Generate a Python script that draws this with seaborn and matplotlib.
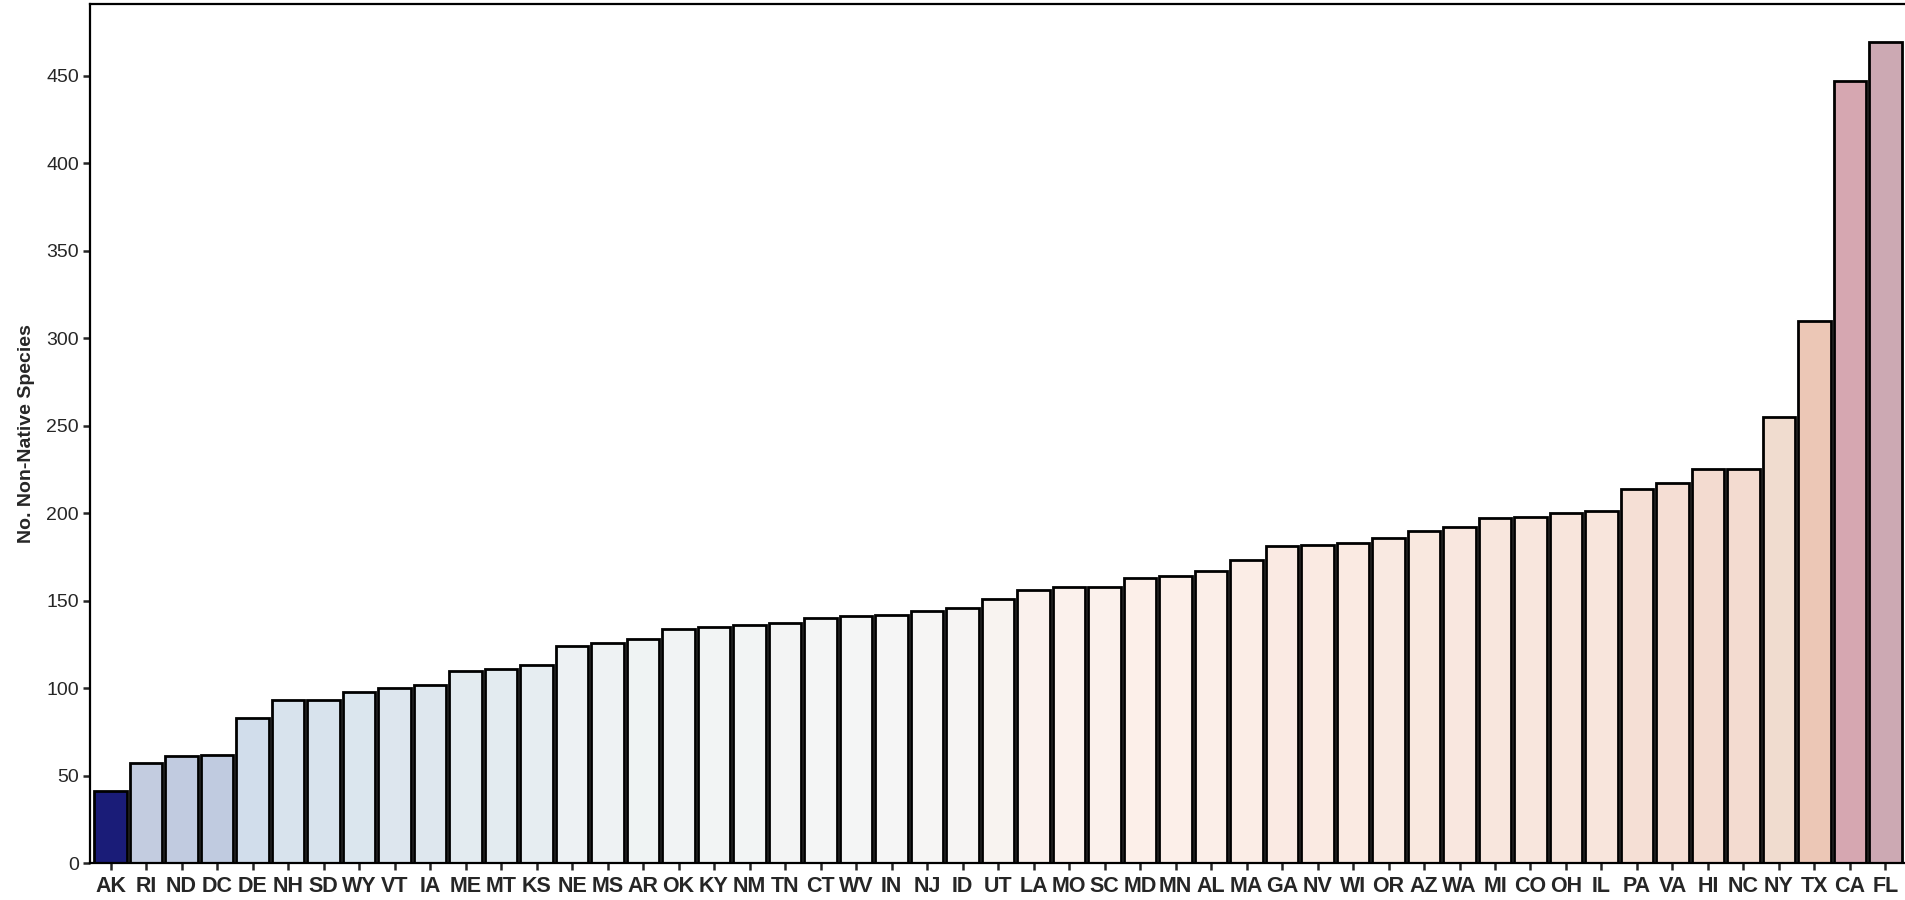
import numpy as np
import pandas as pd
import seaborn as sns
import matplotlib
matplotlib.use('Agg')
import matplotlib.pyplot as plt
from matplotlib.colors import LinearSegmentedColormap, Normalize

states = ['AK', 'RI', 'ND', 'DC', 'DE', 'NH', 'SD', 'WY', 'VT', 'IA', 'ME', 'MT', 'KS',
          'NE', 'MS', 'AR', 'OK', 'KY', 'NM', 'TN', 'CT', 'WV', 'IN', 'NJ', 'ID', 'UT',
          'LA', 'MO', 'SC', 'MD', 'MN', 'AL', 'MA', 'GA', 'NV', 'WI', 'OR', 'AZ', 'WA',
          'MI', 'CO', 'OH', 'IL', 'PA', 'VA', 'HI', 'NC', 'NY', 'TX', 'CA', 'FL']
n_species = [41, 57, 61, 62, 83, 93, 93, 98, 100, 102, 110, 111, 113,
             124, 126, 128, 134, 135, 136, 137, 140, 141, 142, 144, 146, 151,
             156, 158, 158, 163, 164, 167, 173, 181, 182, 183, 186, 190, 192,
             197, 198, 200, 201, 214, 217, 225, 225, 255, 310, 447, 469]

df = pd.DataFrame({'state': states, 'n': n_species})

# value -> colour stops (diverging navy / white / rose)
stops = [(41, '#1a1c78'), (55, '#c3cce0'), (62, '#c0cbe0'), (85, '#d3dfec'),
         (105, '#e0e9ef'), (125, '#eef2f3'), (142, '#f5f5f5'), (160, '#fcf0ea'),
         (200, '#f8e5dc'), (225, '#f3dbd0'), (260, '#f0dccf'), (310, '#ecc7b6'),
         (447, '#d6a7b1'), (469, '#cca9b3')]
lo, hi = stops[0][0], stops[-1][0]
cmap = LinearSegmentedColormap.from_list(
    'natives', [((v - lo) / (hi - lo), c) for v, c in stops])
norm = Normalize(vmin=lo, vmax=hi)
palette = {s: cmap(norm(v)) for s, v in zip(states, n_species)}

sns.set_style('ticks')
plt.rcParams['font.family'] = ['Liberation Sans', 'DejaVu Sans']

fig = plt.figure(figsize=(19.05, 9), dpi=100)
ax = fig.add_axes([90 / 1905, 37 / 900, 1815 / 1905, 859 / 900])

sns.barplot(data=df, x='state', y='n', hue='state', palette=palette, legend=False,
            width=0.92, edgecolor='black', linewidth=2, saturation=1, ax=ax)

ax.set_xlim(-0.58, 50.55)
ax.set_ylim(0, 491)
ax.set_yticks(range(0, 451, 50))
ax.set_xlabel('')
ax.set_ylabel('No. Non-Native Species', fontsize=14, fontweight='bold', labelpad=8)

ax.tick_params(axis='x', labelsize=15.5, length=5, width=1.8, pad=4)
ax.tick_params(axis='y', labelsize=14, length=5, width=1.8, pad=3)
for lab in ax.get_xticklabels():
    lab.set_fontweight('bold')

for side in ['left', 'bottom', 'top']:
    ax.spines[side].set_linewidth(1.6)
    ax.spines[side].set_color('black')
ax.spines['right'].set_visible(False)

fig.savefig('out.png', dpi=100)
